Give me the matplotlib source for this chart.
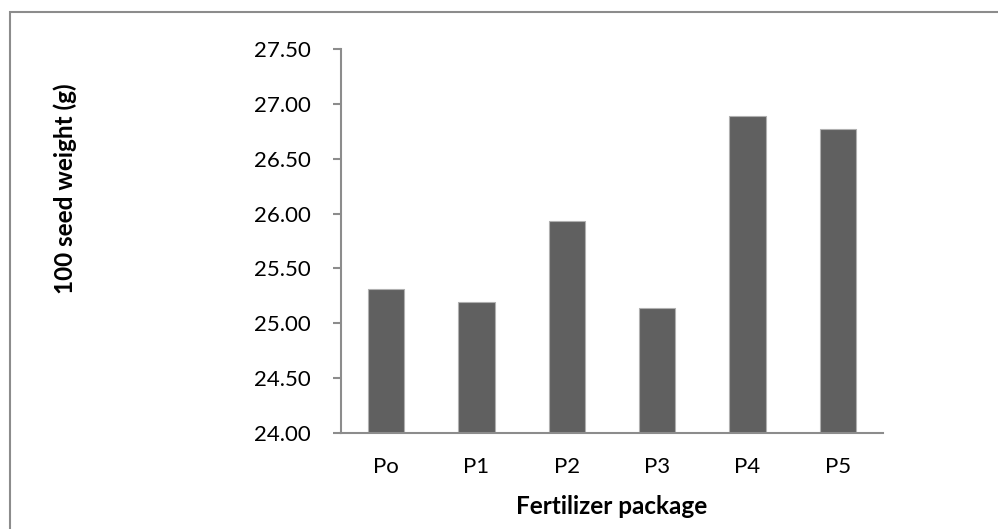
import matplotlib.pyplot as plt
from matplotlib.patches import Rectangle

packages = ["Po", "P1", "P2", "P3", "P4", "P5"]
seed_weight = [25.31, 25.19, 25.93, 25.14, 26.89, 26.77]
yticks = [24.0, 24.5, 25.0, 25.5, 26.0, 26.5, 27.0, 27.5]

plt.rcParams['font.family'] = ['Lato', 'DejaVu Sans']

fig = plt.figure(figsize=(9.98, 5.29), dpi=100)
ax = fig.add_axes([341/998, 1-433/529, (883-341)/998, (433-49)/529])

x = range(len(packages))
ax.bar(x, seed_weight, width=0.4, color="#606060", edgecolor="#b0b0b0", linewidth=0.8)

ax.set_xlim(-0.5, len(packages) - 0.5)
ax.set_ylim(24.0, 27.5)
ax.set_yticks(yticks)
ax.set_yticklabels(["%.2f" % v for v in yticks], fontsize=16)
ax.set_xticks(list(x))
ax.set_xticklabels(packages, fontsize=16)

for side in ["top", "right"]:
    ax.spines[side].set_visible(False)
for side in ["left", "bottom"]:
    ax.spines[side].set_color("#8c8c8c")
    ax.spines[side].set_linewidth(1.5)
ax.tick_params(axis="y", length=6, width=1.5, color="#8c8c8c", pad=16)
ax.tick_params(axis="x", length=0, pad=17)

fig.text(612/998, 1-507/529, "Fertilizer package", ha="center", va="center",
         fontsize=17.5, fontweight="bold")
fig.text(65/998, 1-189/529, "100 seed weight (g)", ha="center", va="center",
         rotation=90, fontsize=17.5, fontweight="bold")

# chart border
fig.patches.append(Rectangle((10/998, -0.1), 1.1, 1 - 12/529 + 0.1,
                             transform=fig.transFigure, fill=False,
                             edgecolor="#8c8c8c", linewidth=1.5))

plt.savefig("out.png", dpi=100)
